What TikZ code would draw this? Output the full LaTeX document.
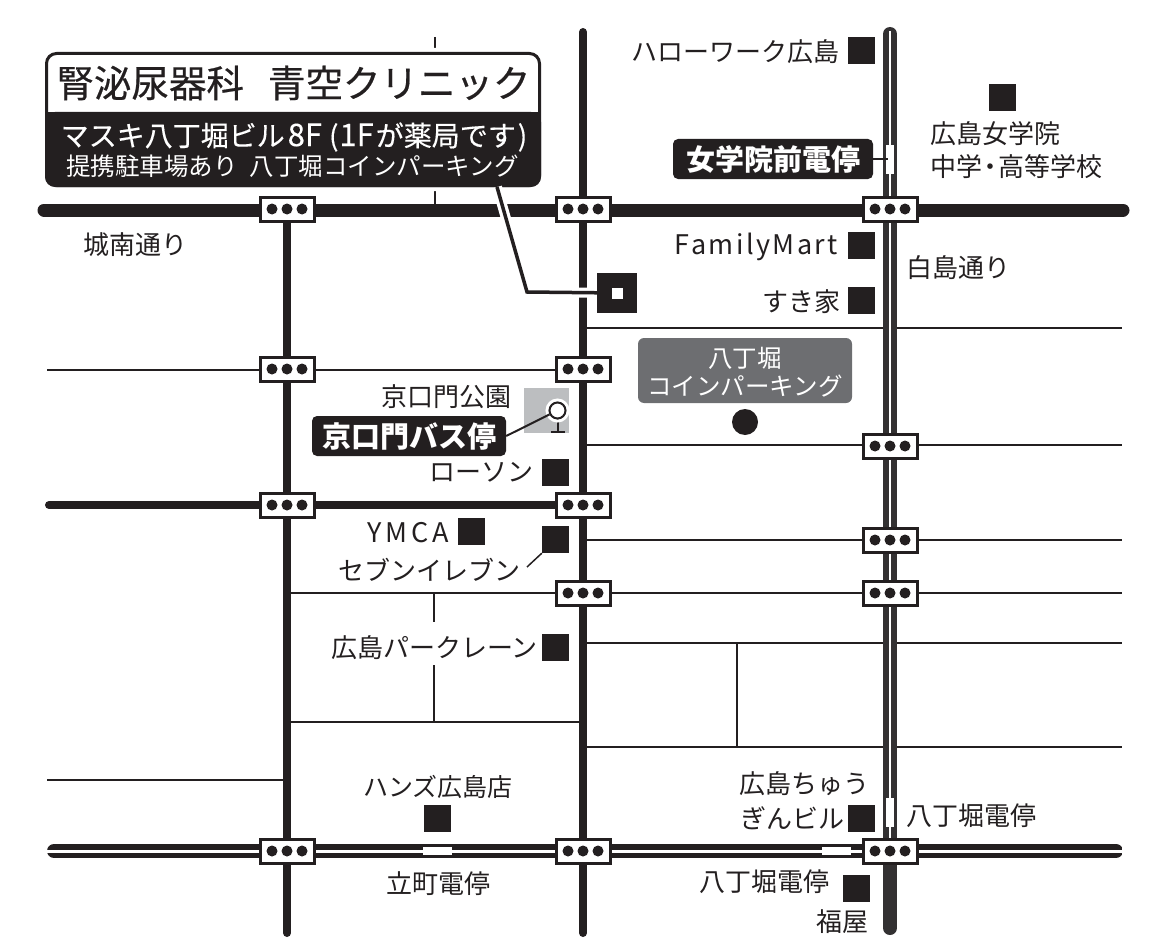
\documentclass[tikz,border=0pt]{standalone}
\usepackage{fontspec}
\setmainfont{Noto Sans CJK JP}
\definecolor{mapblack}{HTML}{231F20}
\definecolor{roadgray}{HTML}{333132}
\definecolor{parkgray}{HTML}{BCBEC0}
\definecolor{lotgray}{HTML}{6D6E71}
\tikzset{
	mapsquare/.style={fill=mapblack,minimum size=27pt,inner sep=0pt},
	maplabel/.style={inner sep=0pt,text=mapblack,font=\fontsize{26}{26}\selectfont},
	spacedlabel/.style={maplabel,font=\fontsize{27}{27}\selectfont\addfontfeature{LetterSpace=#1}},
	blacklabel/.style={fill=mapblack,rounded corners=5pt,inner sep=0pt,text=white,font=\fontsize{29}{29}\selectfont\bfseries},
	signalbox/.style={draw=mapblack,fill=white,line width=3pt,minimum width=54pt,minimum height=24pt,inner sep=0pt},
	thinroad/.style={draw=mapblack,line width=2pt},
	mainroad/.style={draw=mapblack,line width=13pt,line cap=round},
	sideroad/.style={draw=mapblack,line width=8pt,line cap=round},
}

\begin{document}
\begin{tikzpicture}[x=1pt,y=-1pt]

	\useasboundingbox (0,0) rectangle (1156,947);

	\newcommand\BigLatin[1]{{\fontsize{31}{31}\selectfont #1}}

	% thin streets
	\draw[thinroad] (47,370) -- (583,370);
	\draw[thinroad] (583,328) -- (1122,328);
	\draw[thinroad] (583,445) -- (1122,445);
	\draw[thinroad] (583,540) -- (1122,540);
	\draw[thinroad] (287,593) -- (1122,593);
	\draw[thinroad] (583,643) -- (1122,643);
	\draw[thinroad] (583,747) -- (1122,747);
	\draw[thinroad] (287,722) -- (583,722);
	\draw[thinroad] (47,780) -- (287,780);
	\draw[thinroad] (434,593) -- (434,622);
	\draw[thinroad] (434,665) -- (434,722);
	\draw[thinroad] (737,643) -- (737,747);
	\draw[thinroad] (435,37) -- (435,205);

	% main roads
	\draw[sideroad] (287,210) -- (287,933);
	\draw[sideroad] (583,32) -- (583,933);
	\draw[sideroad] (49,505) -- (583,505);
	\draw[mainroad] (44,210) -- (1123,210);
	\draw[draw=roadgray,line width=14pt,line cap=round] (890,34) -- (890,928);
	\draw[white,line width=2.5pt] (890,31) -- (890,851);
	\draw[draw=mapblack,line width=14pt,line cap=round] (54,851) -- (1116,851);
	\draw[white,line width=3pt] (47,851) -- (1122,851);
	\fill[white] (1122,840) rectangle (1130,862);

	% tram stops
	\fill[white] (886,145) rectangle (894,174);
	\fill[white] (886,798) rectangle (894,827);
	\fill[white] (423,847) rectangle (452,855);
	\fill[white] (822,847) rectangle (851,855);

	% signals
	\foreach \name/\x/\y in {sigA/287/209,sigB/583/209,sigC/890/209,sigD/287/369,sigE/583/369,sigF/287/505,sigG/583/505,sigH/583/593,sigI/890/593,sigJ/890/446,sigK/890/540,sigL/287/851,sigM/583/851,sigN/890/851}{
		\node[signalbox] (\name) at (\x,\y) {};
		\foreach \d in {-15,0,15}
			\fill[mapblack] (\x+\d,\y) circle (5.5pt);
	}

	% clinic box
	\fill[white,rounded corners=12pt] (41,48) rectangle (545,191);
	\draw[fill=white,draw=mapblack,line width=3pt,rounded corners=10pt] (46.5,53.5) rectangle (539.5,185.5);
	\fill[mapblack,rounded corners=10pt] (45,112) rectangle (541,187);
	\fill[mapblack] (45,112) rectangle (541,125);
	\node[inner sep=0pt,text=mapblack,font=\fontsize{37.5}{38}\selectfont\addfontfeature{FakeBold=0.5}] at (293.5,83) (clinicTitle) {腎泌尿器科\hspace{24pt}青空クリニック};
	\node[inner sep=0pt,text=white,font=\fontsize{28}{28}\selectfont\addfontfeature{FakeBold=0.3}] at (294,137) (clinicFloor) {マスキ八丁堀ビル\hspace{3pt}\BigLatin{8F}\hspace{7pt}(\hspace{1pt}\BigLatin{1F}\hspace{2pt}が薬局です\hspace{2pt})};
	\node[inner sep=0pt,text=white,font=\fontsize{24.5}{25}\selectfont] at (292.5,166) (clinicParking) {提携駐車場あり\hspace{12pt}八丁堀コインパーキング};

	% clinic marker
	\coordinate (clinicFoot) at (497,187);
	\coordinate (clinicBend) at (527,292);
	\node[fill=mapblack,minimum size=40pt,inner sep=0pt] at (617,293) (clinicMark) {};
	\fill[white] (612,288) rectangle (623,299);
	\draw[white,line width=10pt] (clinicFoot) -- (clinicBend) -- (clinicMark);
	\draw[mapblack,line width=3.5pt,line join=miter] (clinicFoot) -- (clinicBend) -- (clinicMark);

	% shops
	\node[mapsquare] at (861,51) (hello) {};
	\node[mapsquare] at (1002,98) (jogakuin) {};
	\node[mapsquare] at (861,245) (family) {};
	\node[mapsquare] at (861,300) (sukiya) {};
	\node[mapsquare] at (555.5,472.5) (lawson) {};
	\node[mapsquare] at (471,531.5) (ymca) {};
	\node[mapsquare] at (555.5,539.5) (seven) {};
	\node[mapsquare] at (555.5,647) (crane) {};
	\node[mapsquare] at (437,818) (hands) {};
	\node[mapsquare] at (861,818) (chugin) {};
	\node[mapsquare] at (856.5,888.5) (fukuya) {};

	\node[maplabel,anchor=east] at (840,52) (helloText) {ハローワーク広島};
	\node[maplabel,anchor=west] at (930,134) (jogakuinText) {広島女学院};
	\node[maplabel,anchor=west] at (930,167) (jogakuinText2) {中学\hspace{-5pt}・\hspace{-5pt}高等学校};
	\node[maplabel,anchor=west] at (83,245) (jonan) {城南通り};
	\node[spacedlabel=9,anchor=east] at (838,247) (familyText) {FamilyMart};
	\node[maplabel,anchor=west] at (906,268) (hakushima) {白島通り};
	\node[maplabel,anchor=east] at (841,302) (sukiyaText) {すき家};
	\node[maplabel,anchor=east] at (512,397) (parkText) {京口門公園};
	\node[maplabel,anchor=east] at (534,472) (lawsonText) {ローソン};
	\node[spacedlabel=14,anchor=east] at (449,533) (ymcaText) {YMCA};
	\node[maplabel,anchor=east] at (521,570) (sevenText) {セブンイレブン};
	\node[maplabel,anchor=east] at (538,648) (craneText) {広島パークレーン};
	\node[maplabel,anchor=east,font=\fontsize{25}{25}\selectfont] at (513,787) (handsText) {ハンズ広島店};
	\node[maplabel,anchor=west] at (386,884) (tatemachi) {立町電停};
	\node[maplabel,anchor=west] at (739,784) (chuginText) {広島ちゅう};
	\node[maplabel,anchor=west] at (740,818) (chuginText2) {ぎんビル};
	\node[maplabel,anchor=west] at (906,816) (hatchoA) {八丁堀電停};
	\node[maplabel,anchor=east] at (830,882) (hatchoB) {八丁堀電停};
	\node[maplabel,anchor=east] at (869,922) (fukuyaText) {福屋};

	\coordinate (sevenEnd) at (527,567);
	\draw[mapblack,line width=1.5pt] (sevenEnd) -- (seven.south west);

	% tram stop label
	\node[blacklabel,minimum width=200pt,minimum height=40pt] at (773,159) (jogakuinStop) {女学院前電停};
	\coordinate (jogakuinRail) at (888,159);
	\draw[mapblack,line width=1.5pt] (jogakuinStop) -- (jogakuinRail);

	% bus stop and park
	\fill[parkgray] (524,388) rectangle (569,433);
	\draw[mapblack,line width=2pt] (558,418) -- (558,432);
	\draw[mapblack,line width=2pt] (551,432) -- (565,432);
	\node[blacklabel,minimum width=194pt,minimum height=40pt] at (409,436) (busLabel) {京口門バス停};
	\draw[white,line width=3pt] (557.5,410.5) circle (10.5pt);
	\node[circle,draw=mapblack,fill=white,line width=2pt,minimum size=16pt,inner sep=0pt] at (557.5,410.5) (busPin) {};
	\draw[mapblack,line width=2pt] (busLabel.east) -- (busPin);

	% coin parking
	\fill[lotgray,rounded corners=6pt] (638,338) rectangle (852,403);
	\node[inner sep=0pt,text=white,font=\fontsize{24.5}{25}\selectfont] at (745,358) (lotText) {八丁堀};
	\node[inner sep=0pt,text=white,font=\fontsize{24.5}{25}\selectfont] at (745,386) (lotText2) {コインパーキング};
	\fill[mapblack] (745,422) circle (13pt);

\end{tikzpicture}
\end{document}
